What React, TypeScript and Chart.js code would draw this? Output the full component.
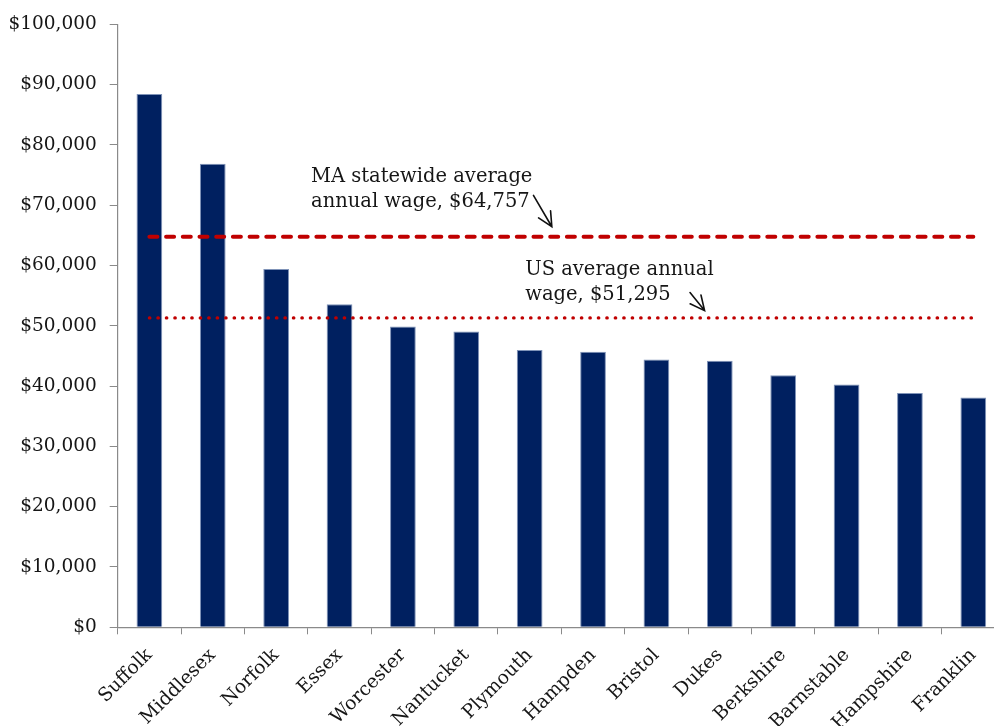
import React, { useEffect, useRef } from "react";
import { Chart, registerables } from "chart.js";

Chart.register(...registerables);

// Average annual wage by Massachusetts county
const counties = [
  "Suffolk",
  "Middlesex",
  "Norfolk",
  "Essex",
  "Worcester",
  "Nantucket",
  "Plymouth",
  "Hampden",
  "Bristol",
  "Dukes",
  "Berkshire",
  "Barnstable",
  "Hampshire",
  "Franklin",
];
const avgWages = [
  88400, 76850, 59380, 53560, 49850, 49020, 45970, 45700, 44400, 44200, 41800,
  40250, 38830, 38100,
];

// Reference averages
const maStatewideAvg = 64757;
const usAvg = 51295;

// Value axis
const yMin = 0;
const yMax = 100000;
const yStep = 10000;

const FONT = "'DejaVu Serif', 'Liberation Serif', serif";
const INK = "#161616";
const AXIS = "#8a8a8a";
const NAVY = "#002060";
const RED = "#C00000";

const money = (v: number) => "$" + v.toLocaleString("en-US");

// Callout notes: anchored in data space (category index, value)
const notes = [
  {
    lines: ["MA statewide average", `annual wage, ${money(maStatewideAvg)}`],
    at: 2.55,
    baseline: 73900,
    arrowFrom: [6.06, 71600],
    arrowTo: [6.35, 66400],
  },
  {
    lines: ["US average annual", `wage, ${money(usAvg)}`],
    at: 5.93,
    baseline: 58420,
    arrowFrom: [8.53, 55500],
    arrowTo: [8.76, 52500],
  },
];

const notesPlugin = {
  id: "wageNotes",
  afterDatasetsDraw(chart: any) {
    const { ctx, scales } = chart;
    const x = scales.x;
    const y = scales.y;
    ctx.save();
    ctx.font = `19.5px ${FONT}`;
    ctx.fillStyle = INK;
    ctx.textAlign = "left";
    ctx.textBaseline = "alphabetic";
    for (const n of notes) {
      const px = x.getPixelForValue(n.at);
      const py = y.getPixelForValue(n.baseline);
      n.lines.forEach((line, i) => ctx.fillText(line, px, py + i * 25));

      const x0 = x.getPixelForValue(n.arrowFrom[0]);
      const y0 = y.getPixelForValue(n.arrowFrom[1]);
      const x1 = x.getPixelForValue(n.arrowTo[0]);
      const y1 = y.getPixelForValue(n.arrowTo[1]);
      ctx.strokeStyle = "#111";
      ctx.lineWidth = 1.6;
      ctx.lineCap = "round";
      ctx.beginPath();
      ctx.moveTo(x0, y0);
      ctx.lineTo(x1, y1);
      const ang = Math.atan2(y0 - y1, x0 - x1);
      const head = 16;
      const spread = 0.45;
      ctx.moveTo(x1 + head * Math.cos(ang - spread), y1 + head * Math.sin(ang - spread));
      ctx.lineTo(x1, y1);
      ctx.lineTo(x1 + head * Math.cos(ang + spread), y1 + head * Math.sin(ang + spread));
      ctx.stroke();
    }
    ctx.restore();
  },
};

export default function App() {
  const canvasRef = useRef<HTMLCanvasElement | null>(null);

  useEffect(() => {
    const canvas = canvasRef.current;
    if (!canvas) return;
    const chart = new Chart(canvas, {
      type: "bar",
      data: {
        labels: counties,
        datasets: [
          {
            type: "line",
            label: "MA statewide average annual wage",
            data: counties.map(() => maStatewideAvg),
            borderColor: RED,
            borderWidth: 4,
            borderDash: [8, 8.7],
            borderCapStyle: "round",
            pointRadius: 0,
            fill: false,
            order: 0,
          },
          {
            type: "line",
            label: "US average annual wage",
            data: counties.map(() => usAvg),
            borderColor: RED,
            borderWidth: 3.2,
            borderDash: [0.5, 7.97],
            borderCapStyle: "round",
            pointRadius: 0,
            fill: false,
            order: 1,
          },
          {
            type: "bar",
            label: "Average annual wage",
            data: avgWages,
            backgroundColor: NAVY,
            borderColor: "#7f93b8",
            borderWidth: 1,
            barPercentage: 0.406,
            categoryPercentage: 1,
            order: 2,
          },
        ],
      },
      options: {
        responsive: false,
        animation: false,
        layout: { padding: { top: 21.3, left: 0, right: 0, bottom: 0 } },
        plugins: {
          legend: { display: false },
          tooltip: { enabled: false },
        },
        scales: {
          x: {
            offset: true,
            grid: {
              offset: true,
              drawOnChartArea: false,
              drawTicks: true,
              tickLength: 7,
              color: AXIS,
            },
            border: { color: AXIS, width: 1.2 },
            ticks: {
              minRotation: 45,
              maxRotation: 45,
              autoSkip: false,
              padding: 10,
              color: INK,
              font: { family: FONT, size: 18.8 },
            },
            afterFit: (s: any) => {
              s.height = 98.7;
            },
          },
          y: {
            min: yMin,
            max: yMax,
            grid: {
              drawOnChartArea: false,
              drawTicks: true,
              tickLength: 8,
              color: AXIS,
            },
            border: { color: AXIS, width: 1.2 },
            ticks: {
              stepSize: yStep,
              padding: 13,
              color: INK,
              font: { family: FONT, size: 18.5 },
              callback: (v: any) => money(Number(v)),
            },
            afterFit: (s: any) => {
              s.width = 117.7;
            },
          },
        },
      },
      plugins: [notesPlugin],
    } as any);
    return () => chart.destroy();
  }, []);

  return (
    <div
      style={{
        position: "fixed",
        left: 0,
        top: 0,
        width: 994,
        height: 726,
        overflow: "hidden",
        background: "#fff",
      }}
    >
      <canvas ref={canvasRef} width={1005} height={726} style={{ display: "block" }} />
    </div>
  );
}
